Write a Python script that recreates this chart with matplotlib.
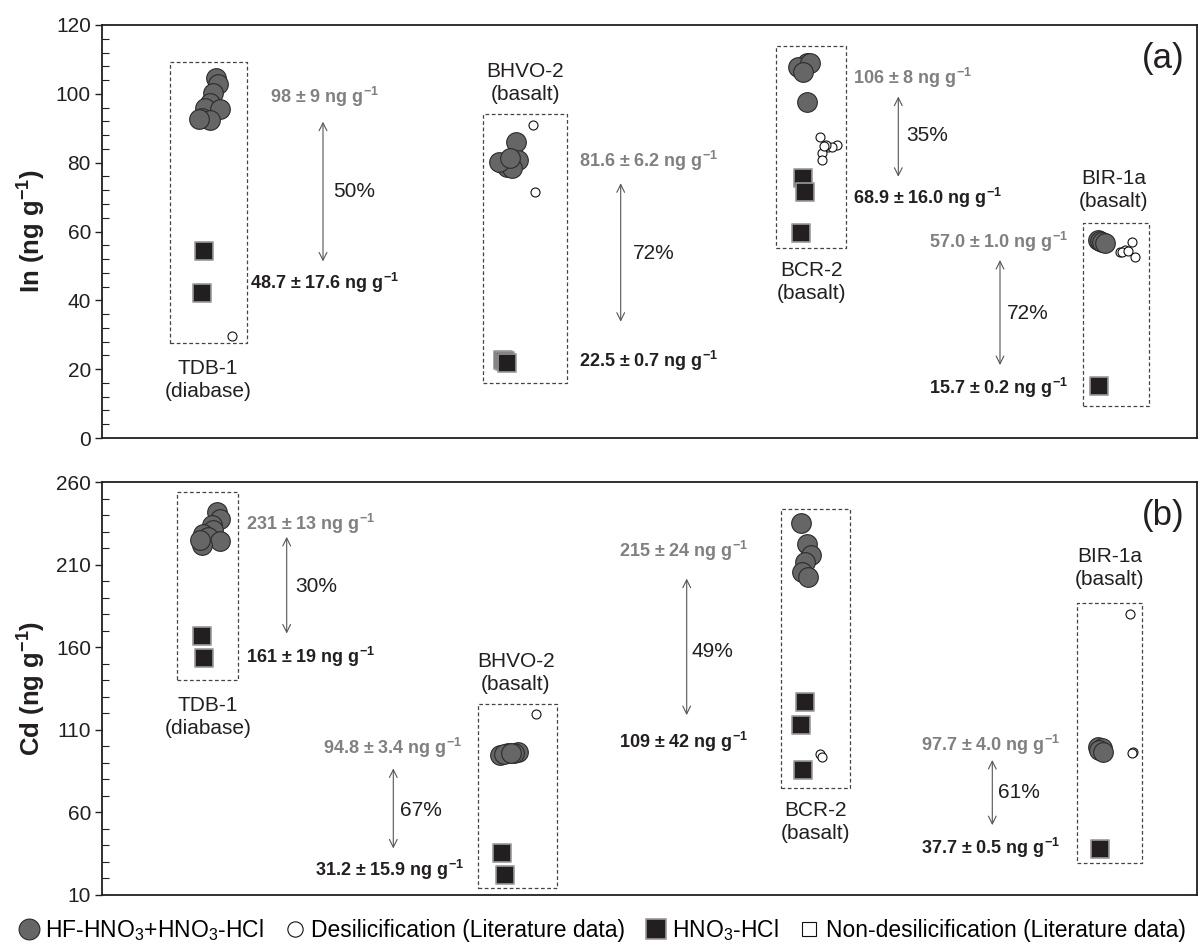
import matplotlib
matplotlib.use('Agg')
import numpy as np
import matplotlib.pyplot as plt
from matplotlib.lines import Line2D

plt.rcParams['font.family'] = ['Liberation Sans', 'DejaVu Sans']
plt.rcParams['mathtext.fontset'] = 'custom'
plt.rcParams['mathtext.rm'] = 'Liberation Sans'
plt.rcParams['mathtext.bf'] = 'Liberation Sans:bold'
plt.rcParams['mathtext.it'] = 'Liberation Sans:italic'

samples = ['TDB-1', 'BHVO-2', 'BCR-2', 'BIR-1a']
rock = ['(diabase)', '(basalt)', '(basalt)', '(basalt)']

# ---- In (ng/g) ----
in_hf = [[104.5, 103.0, 100.1, 97.2, 95.8, 95.5, 92.9, 92.4, 92.7],
         [86.1, 80.8, 79.8, 78.8, 78.4, 80.3, 81.5],
         [108.9, 107.4, 107.9, 108.9, 106.4, 97.7],
         [57.5, 57.3, 57.0, 56.6]]
in_desil = [[29.6],
            [90.9, 71.6],
            [87.5, 84.6, 85.1, 82.7, 80.8, 84.6, 85.0, 84.8],
            [57.0, 52.7, 54.1, 54.6, 54.0, 54.3]]
in_hno3 = [[54.3, 42.0],
           [22.6, 22.3, 21.7],
           [75.4, 71.6, 59.5],
           [15.1]]
in_hf_txt = ['98 ± 9', '81.6 ± 6.2', '106 ± 8', '57.0 ± 1.0']
in_hno3_txt = ['48.7 ± 17.6', '22.5 ± 0.7', '68.9 ± 16.0', '15.7 ± 0.2']
in_loss = ['50%', '72%', '35%', '72%']

# ---- Cd (ng/g) ----
cd_hf = [[241.9, 237.9, 233.8, 230.8, 228.8, 226.8, 224.2, 221.7, 224.8],
         [96.7, 95.7, 94.7, 96.2, 95.2, 95.9],
         [234.9, 222.3, 215.7, 211.6, 205.6, 202.2],
         [99.7, 98.7, 97.5, 96.7]]
cd_desil = [[],
            [119.3],
            [95.1, 93.7],
            [179.8, 96.3, 95.7]]
cd_hno3 = [[166.9, 153.2],
           [35.2, 22.1],
           [126.9, 112.8, 85.6],
           [37.6]]
cd_hf_txt = ['231 ± 13', '94.8 ± 3.4', '215 ± 24', '97.7 ± 4.0']
cd_hno3_txt = ['161 ± 19', '31.2 ± 15.9', '109 ± 42', '37.7 ± 0.5']
cd_loss = ['30%', '67%', '49%', '61%']

# ---- layout (x in figure pixels, y in data units) ----
top_layout = dict(
    hf_x=[[215.7, 218, 213, 210, 205, 220, 201.7, 210, 199],
          [515.7, 518.3, 501.7, 506.7, 511.7, 499.3, 510],
          [806.7, 801.7, 798, 810, 803.3, 806.7],
          [1098.3, 1100, 1101.7, 1105]],
    de_x=[[231.7], [532.7, 535],
          [820, 828.3, 836.7, 821.7, 821.7, 831.7, 826, 824],
          [1131.7, 1135, 1120, 1125, 1122, 1128]],
    sq_x=[[204, 201.7], [503, 504.5, 506.7], [803.3, 805, 800.7], [1099.3]],
    box=[(170, 246.7, 27.5, 109.3), (482.7, 567.3, 16.1, 94.0),
         (776, 845.7, 55.1, 113.9), (1082.7, 1149.3, 9.3, 62.5)],
    lab=[(208, 16.8), (525, 103.1), (811.7, 45.3), (1113.3, 72.1)],
    hf_t=[(270, 99.2, 'left'), (579, 80.4, 'left'), (853.3, 104.6, 'left'), (1068, 57.1, 'right')],
    sq_t=[(250, 45.0, 'left'), (579.3, 22.3, 'left'), (853.3, 69.7, 'left'), (1068, 14.5, 'right')],
    arr=[(323, 91.9, 51.3), (620.7, 74.0, 33.8), (898.3, 99.2, 75.9), (1000, 51.7, 21.2)],
    pct=[(332.7, 71.6), (632.7, 53.7), (906.7, 87.8), (1006.7, 36.3)],
    tag=('(a)', 1163.3, 110.4),
)
bot_layout = dict(
    hf_x=[[216.7, 220, 211.7, 213.3, 203.3, 208.3, 220, 201.7, 200],
          [518.3, 508.3, 500, 514, 504, 511],
          [800.7, 806.7, 810.7, 805, 801.7, 808.3],
          [1098.3, 1101.7, 1099, 1103.3]],
    de_x=[[], [536], [820, 821.7], [1130, 1133.3, 1131.7]],
    sq_x=[[201.7, 204], [501.7, 505], [805, 800.7, 802.7], [1100]],
    box=[(177.3, 237.7, 140.1, 254.0), (478.3, 556.7, 14.0, 125.4),
         (780.7, 850, 74.9, 243.5), (1076.7, 1142.3, 29.5, 186.8)],
    lab=[(208, 117.7), (515.7, 144.3), (816, 54.3), (1110, 207.8)],
    hf_t=[(246, 234.9, 'left'), (462, 98.9, 'right'), (748, 218.1, 'right'), (1060, 100.7, 'right')],
    sq_t=[(246, 154.2, 'left'), (464, 25.1, 'right'), (748, 102.7, 'right'), (1060, 38.3, 'right')],
    arr=[(286.7, 226.8, 168.3), (393.3, 86.6, 38.2), (686.7, 201.5, 118.9), (992.3, 91.7, 52.3)],
    pct=[(295, 196.5), (400, 61.4), (691.7, 157.2), (998.3, 71.9)],
    tag=('(b)', 1163.3, 239.9),
)

DARK = '#231f20'
GREY_TXT = '#808080'


def draw_panel(ax, hf, de, sq, hf_txt, sq_txt, loss, L):
    for i in range(len(samples)):
        x0, x1, y0, y1 = L['box'][i]
        ax.plot([x0, x1, x1, x0, x0], [y0, y0, y1, y1, y0], ls=(0, (3, 2)),
                color='#444444', lw=0.9, zorder=1)
        ax.scatter(L['hf_x'][i], hf[i], s=200, c='#666666', edgecolors='#2b2b2b',
                   linewidths=0.8, zorder=3)
        if de[i]:
            ax.scatter(L['de_x'][i], de[i], s=42, c='white', edgecolors='#111111',
                       linewidths=0.8, zorder=4)
        ax.scatter(L['sq_x'][i], sq[i], s=150, marker='s', c=DARK, edgecolors='#9a9a9a',
                   linewidths=1.2, zorder=3)
        lx, ly = L['lab'][i]
        ax.text(lx, ly, samples[i] + '\n' + rock[i], ha='center', va='center',
                fontsize=15, color=DARK, linespacing=1.25)
        tx, ty, ha = L['hf_t'][i]
        ax.text(tx, ty, hf_txt[i] + r' ng g$^{\mathbf{-1}}$', ha=ha, va='center',
                fontsize=13, fontweight='bold', color=GREY_TXT)
        tx, ty, ha = L['sq_t'][i]
        ax.text(tx, ty, sq_txt[i] + r' ng g$^{\mathbf{-1}}$', ha=ha, va='center',
                fontsize=13, fontweight='bold', color=DARK)
        ax_x, ya, yb = L['arr'][i]
        ax.annotate('', xy=(ax_x, ya), xytext=(ax_x, yb),
                    arrowprops=dict(arrowstyle='<->', color='#555555', lw=0.8,
                                    shrinkA=0, shrinkB=0, mutation_scale=14))
        px, py = L['pct'][i]
        ax.text(px, py, loss[i], ha='left', va='center', fontsize=15, color=DARK)
    t, tx, ty = L['tag']
    ax.text(tx, ty, t, ha='center', va='center', fontsize=25, color=DARK)


def style_axis(ax, lo, hi, major, minor, label):
    ax.set_xlim(102, 1197)
    ax.set_ylim(lo, hi)
    ax.set_yticks(np.arange(lo, hi + 0.1, major))
    ax.set_yticks(np.arange(lo, hi + 0.1, minor), minor=True)
    ax.set_xticks([])
    ax.tick_params(axis='y', which='major', direction='out', length=5, width=1,
                   labelsize=15, colors=DARK, pad=3)
    ax.tick_params(axis='y', which='minor', direction='in', length=5, width=0.8, colors=DARK)
    for s in ax.spines.values():
        s.set_color(DARK)
        s.set_linewidth(1.3)
    ax.set_ylabel(label, fontsize=18.5, fontweight='bold', color=DARK)
    ax.yaxis.set_label_coords(-0.049, 0.5)


fig = plt.figure(figsize=(12.04, 9.51), dpi=100)
ax1 = fig.add_axes([102 / 1204, 1 - 438 / 951, 1095 / 1204, 413 / 951])
ax2 = fig.add_axes([102 / 1204, 1 - 895 / 951, 1095 / 1204, 413 / 951])

draw_panel(ax1, in_hf, in_desil, in_hno3, in_hf_txt, in_hno3_txt, in_loss, top_layout)
draw_panel(ax2, cd_hf, cd_desil, cd_hno3, cd_hf_txt, cd_hno3_txt, cd_loss, bot_layout)
style_axis(ax1, 0, 120, 20, 4, r'In (ng g$^{\mathbf{-1}}$)')
style_axis(ax2, 10, 260, 50, 10, r'Cd (ng g$^{\mathbf{-1}}$)')

handles = [
    Line2D([], [], ls='none', marker='o', ms=15, mfc='#666666', mec='#2b2b2b', mew=0.8),
    Line2D([], [], ls='none', marker='o', ms=11, mfc='white', mec='#111111', mew=0.8),
    Line2D([], [], ls='none', marker='s', ms=15, mfc=DARK, mec='#9a9a9a', mew=1.2),
    Line2D([], [], ls='none', marker='s', ms=10, mfc='white', mec='#111111', mew=0.8),
]
labels = [r'HF-HNO$_3$+HNO$_3$-HCl', 'Desilicification (Literature data)',
          r'HNO$_3$-HCl', 'Non-desilicification (Literature data)']
fig.legend(handles, labels, loc='center', bbox_to_anchor=(0.5, 1 - 930 / 951), ncol=4,
           frameon=False, fontsize=16.5, handletextpad=0.25, columnspacing=0.9,
           handlelength=0.9, borderaxespad=0, borderpad=0)

fig.savefig('out.png', dpi=100)
